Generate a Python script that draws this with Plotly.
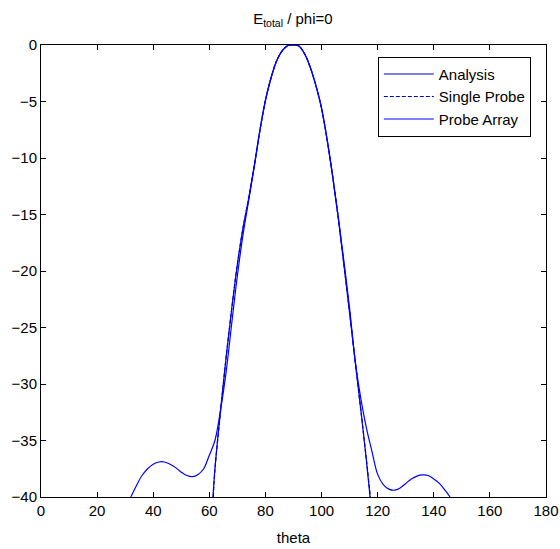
import plotly.graph_objects as go

# Analysis (narrow main lobe)
analysis_theta = [61.3, 62, 64, 66, 68, 70, 72, 74, 76, 78, 80, 82, 84, 86, 88, 89, 90, 91, 92, 94, 96, 98, 100, 102, 104, 106, 108, 110, 112, 114, 116, 117.3]
analysis_db = [-40, -37.5, -32.3, -27.6, -23.3, -19.4, -16.2, -13.6, -10.7, -7.6, -4.9, -2.9, -1.4, -0.5, -0.05, 0, 0, 0, -0.1, -0.8, -2.0, -3.6, -5.6, -8.4, -11.7, -15.4, -19.5, -23.7, -28.0, -32.3, -36.8, -40]

# Single Probe (overlaps analysis)
single_theta = [61.4, 62, 64, 66, 68, 70, 72, 74, 76, 78, 80, 82, 84, 86, 88, 89, 90, 91, 92, 94, 96, 98, 100, 102, 104, 106, 108, 110, 112, 114, 116, 117.4]
single_db = [-40, -37.6, -32.4, -27.6, -23.3, -19.4, -16.2, -13.6, -10.7, -7.6, -4.9, -2.9, -1.4, -0.5, -0.05, 0, 0, 0, -0.1, -0.8, -2.0, -3.6, -5.6, -8.4, -11.7, -15.4, -19.5, -23.7, -28.0, -32.3, -36.7, -40]

# Probe Array (wider, with sidelobes)
array_theta = [32, 34, 36, 38, 40, 42, 44, 46, 48, 50, 52, 54, 56, 58, 60, 62, 64, 66, 68, 70, 72, 74, 76, 78, 80, 82, 84, 86, 88, 90, 92, 94, 96, 98, 100, 102, 104, 106, 108, 110, 112, 114, 116, 118, 120, 122, 124, 126, 128, 130, 132, 134, 136, 138, 140, 142, 144, 145.8]
array_db = [-40, -39.0, -38.1, -37.5, -37.1, -36.9, -36.9, -37.1, -37.4, -37.8, -38.1, -38.2, -38.0, -37.5, -36.3, -35.0, -32.3, -28.9, -24.6, -20.4, -16.8, -13.8, -10.8, -7.6, -4.9, -2.9, -1.4, -0.5, -0.05, 0, -0.1, -0.8, -2.0, -3.6, -5.6, -8.4, -11.7, -15.3, -19.2, -23.3, -28.0, -31.3, -33.9, -36.0, -38.0, -38.9, -39.3, -39.4, -39.2, -38.8, -38.4, -38.15, -38.05, -38.1, -38.4, -38.8, -39.4, -40]

FONT = "Liberation Sans, Arial"

fig = go.Figure()
fig.add_trace(go.Scatter(x=analysis_theta, y=analysis_db, mode="lines", name="Analysis",
                         line=dict(color="#0000cc", width=1.2, shape="spline")))
fig.add_trace(go.Scatter(x=single_theta, y=single_db, mode="lines", name="Single Probe",
                         line=dict(color="#0000cc", width=1.2, dash="4px,2px", shape="spline")))
fig.add_trace(go.Scatter(x=array_theta, y=array_db, mode="lines", name="Probe Array",
                         line=dict(color="#0000ff", width=1.2, shape="spline")))

axis_common = dict(showline=True, linecolor="black", linewidth=1, mirror="ticks",
                   ticks="inside", ticklen=5, tickcolor="black", showgrid=False,
                   zeroline=False, automargin=False,
                   tickfont=dict(family=FONT, size=15, color="black"))

fig.update_layout(
    width=560, height=549,
    margin=dict(l=41, r=14, t=45, b=52),
    paper_bgcolor="white", plot_bgcolor="white",
    title=dict(text="E<sub>total</sub> / phi=0", x=0.523, xanchor="center", y=0.975, yanchor="top",
               font=dict(family=FONT, size=15, color="black")),
    xaxis=dict(range=[0, 180], tickvals=[0, 20, 40, 60, 80, 100, 120, 140, 160, 180],
               title=dict(text="theta", standoff=14, font=dict(family=FONT, size=15, color="black")),
               **axis_common),
    yaxis=dict(range=[-40, 0], tickvals=[0, -5, -10, -15, -20, -25, -30, -35, -40],
               **axis_common),
    legend=dict(x=0.667, y=0.974, xanchor="left", yanchor="top", bordercolor="black", borderwidth=1,
                bgcolor="white", font=dict(family=FONT, size=15, color="black"),
                tracegroupgap=0, itemwidth=50),
    showlegend=True,
)

fig.write_html("out.html")
